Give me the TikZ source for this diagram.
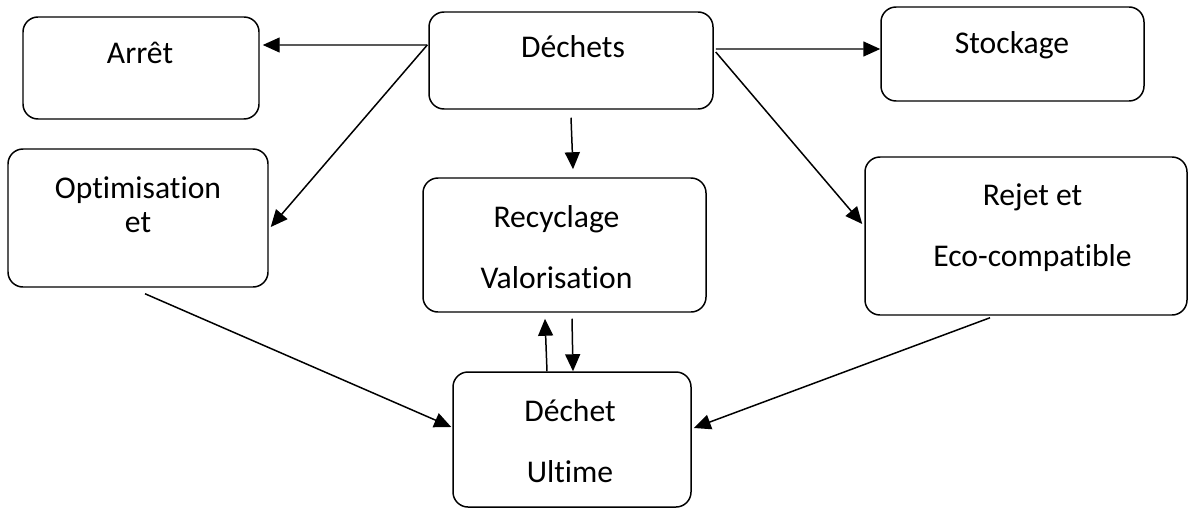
\documentclass[tikz,border=0pt]{standalone}
\usepackage{fontspec}
\setmainfont[Ligatures={NoCommon,NoContextual},Contextuals=NoAlternate]{Carlito}
\usetikzlibrary{arrows.meta}

\begin{document}
\begin{tikzpicture}[
        box/.style={draw,rounded corners=0.3cm,line width=0.85pt,inner sep=0pt},
        txt/.style={font=\fontsize{18}{19.6}\selectfont,align=center,inner sep=0pt},
        arr/.style={-{Triangle[length=0.34cm,width=0.3cm]},line width=0.85pt}]

        % Frame
        \useasboundingbox (0,0) rectangle (23.78,10.18);

        % Boxes
        \node[box,minimum width=4.72cm,minimum height=2.04cm] (arret) at (2.82,8.82) {};
        \node[box,minimum width=5.68cm,minimum height=1.94cm] (dechets) at (11.42,8.97) {};
        \node[box,minimum width=5.26cm,minimum height=1.88cm] (stockage) at (20.25,9.10) {};
        \node[box,minimum width=5.20cm,minimum height=2.76cm] (optim) at (2.76,5.82) {};
        \node[box,minimum width=5.66cm,minimum height=2.68cm] (recyclage) at (11.29,5.28) {};
        \node[box,minimum width=6.44cm,minimum height=3.16cm] (rejet) at (20.52,5.46) {};
        \node[box,minimum width=4.76cm,minimum height=2.70cm] (ultime) at (11.44,1.39) {};

        % Texts
        \node[txt] (arret-t) at (2.80,9.12) {Arrêt};
        \node[txt] (dechets-t) at (11.46,9.24) {Déchets};
        \node[txt] (stockage-t) at (20.24,9.28) {Stockage};
        \node[txt] (optim-t) at (2.76,6.08) {Optimisation\\et};
        \node[txt] (recyclage-t) at (11.13,5.23) {Recyclage\\[15pt]Valorisation};
        \node[txt] (rejet-t) at (20.65,5.63) {Rejet et\\[15pt]Eco-compatible};
        \node[txt] (ultime-t) at (11.40,1.36) {Déchet\\[15pt]Ultime};

        % Arrows from Déchets
        \draw[arr] ([shift={(-0.02,0.31)}]dechets.west) -- ([shift={(0.06,0.46)}]arret.east);
        \draw[arr] ([shift={(-0.02,0.31)}]dechets.west) -- ([shift={(0.04,-0.18)}]optim.east);
        \draw[arr] ([shift={(0.04,0.23)}]dechets.east) -- ([yshift=0.10cm]stockage.west);
        \draw[arr] ([shift={(0.04,0.17)}]dechets.east) -- ([shift={(-0.04,0.24)}]rejet.west);
        \draw[arr] ([yshift=-0.16cm]dechets.south) -- ([shift={(0.17,0.16)}]recyclage.north);

        % Arrows to Déchet Ultime
        \draw[arr] ([shift={(0.14,-0.12)}]optim.south) -- ([shift={(-0.02,0.25)}]ultime.west);
        \draw[arr] ([shift={(-0.72,-0.04)}]rejet.south) -- ([shift={(0.04,0.23)}]ultime.east);
        \draw[arr] ([xshift=-0.50cm]ultime.north) -- ([shift={(-0.39,-0.12)}]recyclage.south);
        \draw[arr] ([shift={(0.15,-0.12)}]recyclage.south) -- ([xshift=0.02cm]ultime.north);

\end{tikzpicture}
\end{document}
